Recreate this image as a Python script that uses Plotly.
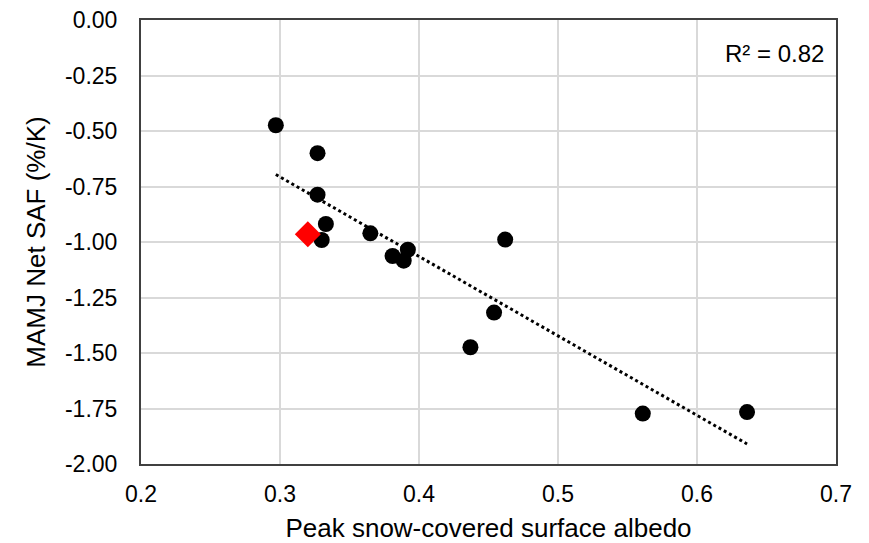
import numpy as np
import plotly.graph_objects as go

albedo = [0.297, 0.327, 0.327, 0.333, 0.330, 0.365, 0.381, 0.392, 0.389, 0.462, 0.454, 0.437, 0.561, 0.636]
saf = [-0.474, -0.600, -0.787, -0.919, -0.991, -0.961, -1.063, -1.035, -1.084, -0.989, -1.318, -1.474, -1.773, -1.766]
obs_albedo = [0.320]
obs_saf = [-0.965]
r2_label = "R² = 0.82"
x_ticks = [0.2, 0.3, 0.4, 0.5, 0.6, 0.7]
x_ticktext = ["0.2", "0.3", "0.4", "0.5", "0.6", "0.7"]
y_ticks = [0, -0.25, -0.5, -0.75, -1.0, -1.25, -1.5, -1.75, -2.0]
y_ticktext = ["0.00", "-0.25", "-0.50", "-0.75", "-1.00", "-1.25", "-1.50", "-1.75", "-2.00"]

slope, intercept = np.polyfit(albedo, saf, 1)
tx = np.array([min(albedo), max(albedo)])
ty = slope * tx + intercept

font = "Liberation Sans, Arial, sans-serif"
fig = go.Figure()
fig.add_trace(go.Scatter(x=tx, y=ty, mode="lines",
                         line=dict(color="black", width=3, dash="dot"), hoverinfo="skip"))
fig.add_trace(go.Scatter(x=albedo, y=saf, mode="markers",
                         marker=dict(color="black", size=16, symbol="circle")))
fig.add_trace(go.Scatter(x=obs_albedo, y=obs_saf, mode="markers",
                         marker=dict(color="#ff0000", size=20, symbol="diamond")))

fig.add_annotation(x=0.985, y=0.925, xref="paper", yref="paper", text=r2_label,
                   showarrow=False, xanchor="right", yanchor="middle",
                   font=dict(size=24, color="black", family=font))

fig.update_layout(
    width=869, height=543,
    margin=dict(l=141, r=33, t=20, b=79),
    paper_bgcolor="white", plot_bgcolor="white",
    showlegend=False,
    font=dict(family=font, size=23, color="black"),
    xaxis=dict(range=[0.2, 0.7], tickvals=x_ticks, ticktext=x_ticktext,
               showgrid=True, gridcolor="#d9d9d9", gridwidth=1.5,
               showline=True, linecolor="#404040", linewidth=2, mirror=True,
               zeroline=False, ticks="", ticklabelstandoff=8, automargin=False,
               title=dict(text="Peak snow-covered surface albedo", font=dict(size=26), standoff=16)),
    yaxis=dict(range=[-2.0, 0.0], tickvals=y_ticks, ticktext=y_ticktext,
               showgrid=True, gridcolor="#d9d9d9", gridwidth=1.5,
               showline=True, linecolor="#404040", linewidth=2, mirror=True,
               zeroline=False, ticks="", ticklabelstandoff=17, automargin=False,
               title=dict(text="MAMJ Net SAF (%/K)", font=dict(size=26), standoff=12)),
)
fig.write_html("out.html", config={"displayModeBar": False},
               post_script="document.body.style.margin='0';document.body.style.overflow='hidden';")
